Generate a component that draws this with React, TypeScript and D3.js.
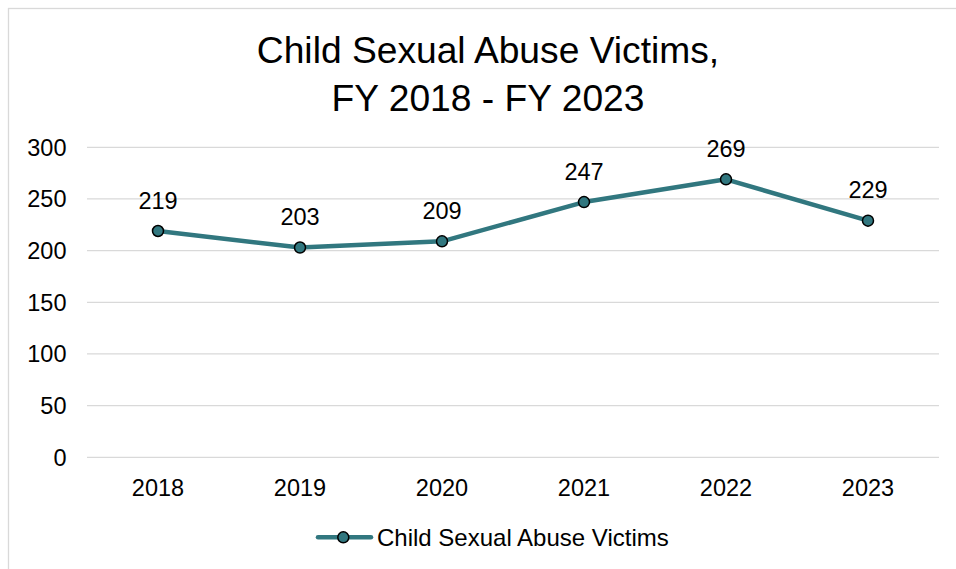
import React from "react";
import * as d3 from "d3";

const categories = ["2018", "2019", "2020", "2021", "2022", "2023"];
const values = [219, 203, 209, 247, 269, 229];
const yTicks = [0, 50, 100, 150, 200, 250, 300];
const seriesName = "Child Sexual Abuse Victims";
const titleLines = ["Child Sexual Abuse Victims,", "FY 2018 - FY 2023"];

const W = 956;
const H = 569;
const COLOR = "#31777F";
const FONT = "'Liberation Sans', Arial, sans-serif";

export default function App() {
  const x = d3.scaleBand<string>().domain(categories).range([79, 931]);
  const y = d3.scaleLinear().domain([0, 300]).range([449.3, 139.3]);
  const cx = (c: string) => (x(c) as number) + x.bandwidth() / 2;
  const line = d3
    .line<number>()
    .x((_, i) => cx(categories[i]))
    .y((d) => y(d));

  return (
    <svg width={W} height={H} style={{ display: "block", position: "absolute", left: 8, top: 8 }} overflow="visible">
      <rect x={0.5} y={0.5} width={W + 20} height={H + 20} fill="#fff" stroke="#d9d9d9" strokeWidth={1.3} />
      {titleLines.map((t, i) => (
        <text key={i} x={480} y={54.5 + i * 48.5} textAnchor="middle" fontFamily={FONT} fontSize={37.2} fill="#000">
          {t}
        </text>
      ))}
      {yTicks.map((t) => (
        <g key={t}>
          <line x1={79} x2={931} y1={y(t)} y2={y(t)} stroke="#d9d9d9" strokeWidth={1.3} />
          <text x={58.5} y={y(t) + 8.5} textAnchor="end" fontFamily={FONT} fontSize={23.5} fill="#000">
            {t}
          </text>
        </g>
      ))}
      {categories.map((c) => (
        <text key={c} x={cx(c)} y={488} textAnchor="middle" fontFamily={FONT} fontSize={23.5} fill="#000">
          {c}
        </text>
      ))}
      <path d={line(values) || ""} fill="none" stroke={COLOR} strokeWidth={4.5} strokeLinejoin="round" />
      {values.map((v, i) => (
        <g key={i}>
          <circle cx={cx(categories[i])} cy={y(v)} r={5.5} fill={COLOR} stroke="#000" strokeWidth={1.5} />
          <text x={cx(categories[i])} y={y(v) - 22.5} textAnchor="middle" fontFamily={FONT} fontSize={23.5} fill="#000">
            {v}
          </text>
        </g>
      ))}
      <line x1={310} x2={363} y1={529.3} y2={529.3} stroke={COLOR} strokeWidth={4.5} strokeLinecap="round" />
      <circle cx={335.3} cy={529.3} r={5.5} fill={COLOR} stroke="#000" strokeWidth={1.5} />
      <text x={369} y={537.5} fontFamily={FONT} fontSize={24} fill="#000">
        {seriesName}
      </text>
    </svg>
  );
}
